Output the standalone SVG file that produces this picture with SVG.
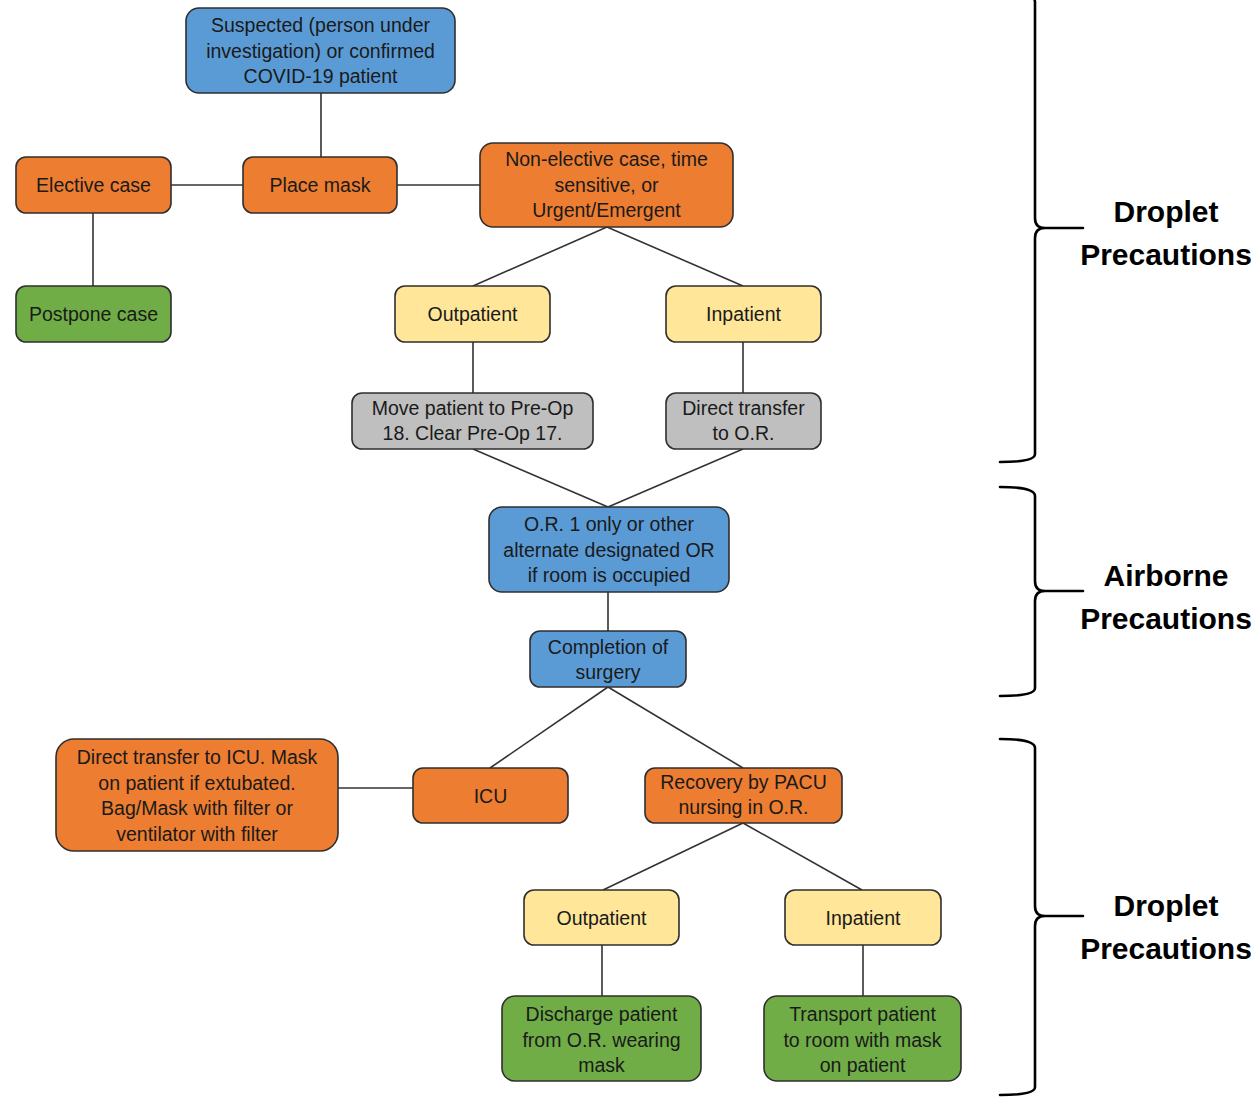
<svg xmlns="http://www.w3.org/2000/svg" width="1260" height="1097" viewBox="0 0 1260 1097">
  <style>
    .box { stroke: #2f2f2f; stroke-width: 1.6; }
    .blue { fill: #5B9BD5; }
    .orange { fill: #ED7D31; }
    .green { fill: #70AD47; }
    .yellow { fill: #FFE699; }
    .gray { fill: #BFBFBF; }
    .lbl { font-family: "Liberation Sans", Arial, sans-serif; font-size: 19.5px; fill: #1a1a1a; text-anchor: middle; }
    .link { stroke: #333333; stroke-width: 1.6; fill: none; }
    .brace { stroke: #000000; stroke-width: 2.6; fill: none; stroke-linecap: round; }
    .zone { font-family: "Liberation Sans", Arial, sans-serif; font-weight: bold; font-size: 30px; fill: #000000; text-anchor: middle; }
  </style>

  <!-- connectors -->
  <g id="connectors">
    <line class="link" x1="321" y1="93" x2="321" y2="157"/>
    <line class="link" x1="171" y1="185" x2="243" y2="185"/>
    <line class="link" x1="397" y1="185" x2="480" y2="185"/>
    <line class="link" x1="93" y1="213" x2="93" y2="286"/>
    <line class="link" x1="607" y1="227" x2="473" y2="286"/>
    <line class="link" x1="607" y1="227" x2="743" y2="286"/>
    <line class="link" x1="473" y1="342" x2="473" y2="393"/>
    <line class="link" x1="743" y1="342" x2="743" y2="393"/>
    <line class="link" x1="473" y1="449" x2="608" y2="507"/>
    <line class="link" x1="743" y1="449" x2="608" y2="507"/>
    <line class="link" x1="608" y1="592" x2="608" y2="631"/>
    <line class="link" x1="608" y1="687" x2="490" y2="768"/>
    <line class="link" x1="608" y1="687" x2="743" y2="768"/>
    <line class="link" x1="338" y1="788" x2="413" y2="788"/>
    <line class="link" x1="743" y1="823" x2="603" y2="890"/>
    <line class="link" x1="743" y1="823" x2="862" y2="890"/>
    <line class="link" x1="602" y1="945" x2="602" y2="996"/>
    <line class="link" x1="863" y1="945" x2="863" y2="996"/>
  </g>

  <g id="n-suspected">
    <rect class="box blue" x="186" y="8" width="269" height="85" rx="13"/>
    <text class="lbl" x="320.5" y="32">Suspected (person under</text>
    <text class="lbl" x="320.5" y="57.5">investigation) or confirmed</text>
    <text class="lbl" x="320.5" y="83">COVID-19 patient</text>
  </g>

  <g id="n-elective">
    <rect class="box orange" x="16" y="157" width="155" height="56" rx="10"/>
    <text class="lbl" x="93.5" y="192">Elective case</text>
  </g>

  <g id="n-placemask">
    <rect class="box orange" x="243" y="157" width="154" height="56" rx="10"/>
    <text class="lbl" x="320" y="192">Place mask</text>
  </g>

  <g id="n-nonelective">
    <rect class="box orange" x="480" y="143" width="253" height="84" rx="13"/>
    <text class="lbl" x="606.5" y="166">Non-elective case, time</text>
    <text class="lbl" x="606.5" y="191.5">sensitive, or</text>
    <text class="lbl" x="606.5" y="217">Urgent/Emergent</text>
  </g>

  <g id="n-postpone">
    <rect class="box green" x="16" y="286" width="155" height="56" rx="10"/>
    <text class="lbl" x="93.5" y="321">Postpone case</text>
  </g>

  <g id="n-outpatient1">
    <rect class="box yellow" x="395" y="286" width="155" height="56" rx="10"/>
    <text class="lbl" x="472.5" y="321">Outpatient</text>
  </g>

  <g id="n-inpatient1">
    <rect class="box yellow" x="666" y="286" width="155" height="56" rx="10"/>
    <text class="lbl" x="743.5" y="321">Inpatient</text>
  </g>

  <g id="n-preop">
    <rect class="box gray" x="352" y="393" width="241" height="56" rx="10"/>
    <text class="lbl" x="472.5" y="415">Move patient to Pre-Op</text>
    <text class="lbl" x="472.5" y="440">18.  Clear Pre-Op 17.</text>
  </g>

  <g id="n-director">
    <rect class="box gray" x="666" y="393" width="155" height="56" rx="10"/>
    <text class="lbl" x="743.5" y="415">Direct transfer</text>
    <text class="lbl" x="743.5" y="440">to O.R.</text>
  </g>

  <g id="n-or1">
    <rect class="box blue" x="489" y="507" width="240" height="85" rx="13"/>
    <text class="lbl" x="609" y="531">O.R. 1 only or other</text>
    <text class="lbl" x="609" y="556.5">alternate designated OR</text>
    <text class="lbl" x="609" y="582">if room is occupied</text>
  </g>

  <g id="n-completion">
    <rect class="box blue" x="530" y="631" width="156" height="56" rx="10"/>
    <text class="lbl" x="608" y="654">Completion of</text>
    <text class="lbl" x="608" y="679">surgery</text>
  </g>

  <g id="n-icutransfer">
    <rect class="box orange" x="56" y="739" width="282" height="112" rx="18"/>
    <text class="lbl" x="197" y="764">Direct transfer to ICU. Mask</text>
    <text class="lbl" x="197" y="789.5">on patient if extubated.</text>
    <text class="lbl" x="197" y="815">Bag/Mask with filter or</text>
    <text class="lbl" x="197" y="840.5">ventilator with filter</text>
  </g>

  <g id="n-icu">
    <rect class="box orange" x="413" y="768" width="155" height="55" rx="10"/>
    <text class="lbl" x="490.5" y="802.5">ICU</text>
  </g>

  <g id="n-recovery">
    <rect class="box orange" x="645" y="768" width="197" height="55" rx="10"/>
    <text class="lbl" x="743.5" y="789">Recovery by PACU</text>
    <text class="lbl" x="743.5" y="814">nursing in O.R.</text>
  </g>

  <g id="n-outpatient2">
    <rect class="box yellow" x="524" y="890" width="155" height="55" rx="10"/>
    <text class="lbl" x="601.5" y="925">Outpatient</text>
  </g>

  <g id="n-inpatient2">
    <rect class="box yellow" x="785" y="890" width="156" height="55" rx="10"/>
    <text class="lbl" x="863" y="925">Inpatient</text>
  </g>

  <g id="n-discharge">
    <rect class="box green" x="502" y="996" width="199" height="85" rx="13"/>
    <text class="lbl" x="601.5" y="1021">Discharge patient</text>
    <text class="lbl" x="601.5" y="1046.5">from O.R. wearing</text>
    <text class="lbl" x="601.5" y="1072">mask</text>
  </g>

  <g id="n-transport">
    <rect class="box green" x="764" y="996" width="197" height="85" rx="13"/>
    <text class="lbl" x="862.5" y="1021">Transport patient</text>
    <text class="lbl" x="862.5" y="1046.5">to room with mask</text>
    <text class="lbl" x="862.5" y="1072">on patient</text>
  </g>

  <!-- precaution zones: braces with labels -->
  <g id="zone-droplet-top">
    <path class="brace" d="M1000,-8 Q1035,-8 1035,2 L1035,218 Q1035,228 1045,228 L1083,228 M1045,228 Q1035,228 1035,238 L1035,454 Q1035,462 1000,462"/>
    <text class="zone" x="1166" y="222">Droplet</text>
    <text class="zone" x="1166" y="265">Precautions</text>
  </g>

  <g id="zone-airborne">
    <path class="brace" d="M1000,487 Q1035,487 1035,496 L1035,581 Q1035,591 1045,591 L1083,591 M1045,591 Q1035,591 1035,601 L1035,688 Q1035,696 1000,696"/>
    <text class="zone" x="1166" y="586">Airborne</text>
    <text class="zone" x="1166" y="629">Precautions</text>
  </g>

  <g id="zone-droplet-bottom">
    <path class="brace" d="M1000,739 Q1035,739 1035,748 L1035,906 Q1035,916 1045,916 L1083,916 M1045,916 Q1035,916 1035,926 L1035,1087 Q1035,1095 1000,1095"/>
    <text class="zone" x="1166" y="916">Droplet</text>
    <text class="zone" x="1166" y="959">Precautions</text>
  </g>
</svg>
